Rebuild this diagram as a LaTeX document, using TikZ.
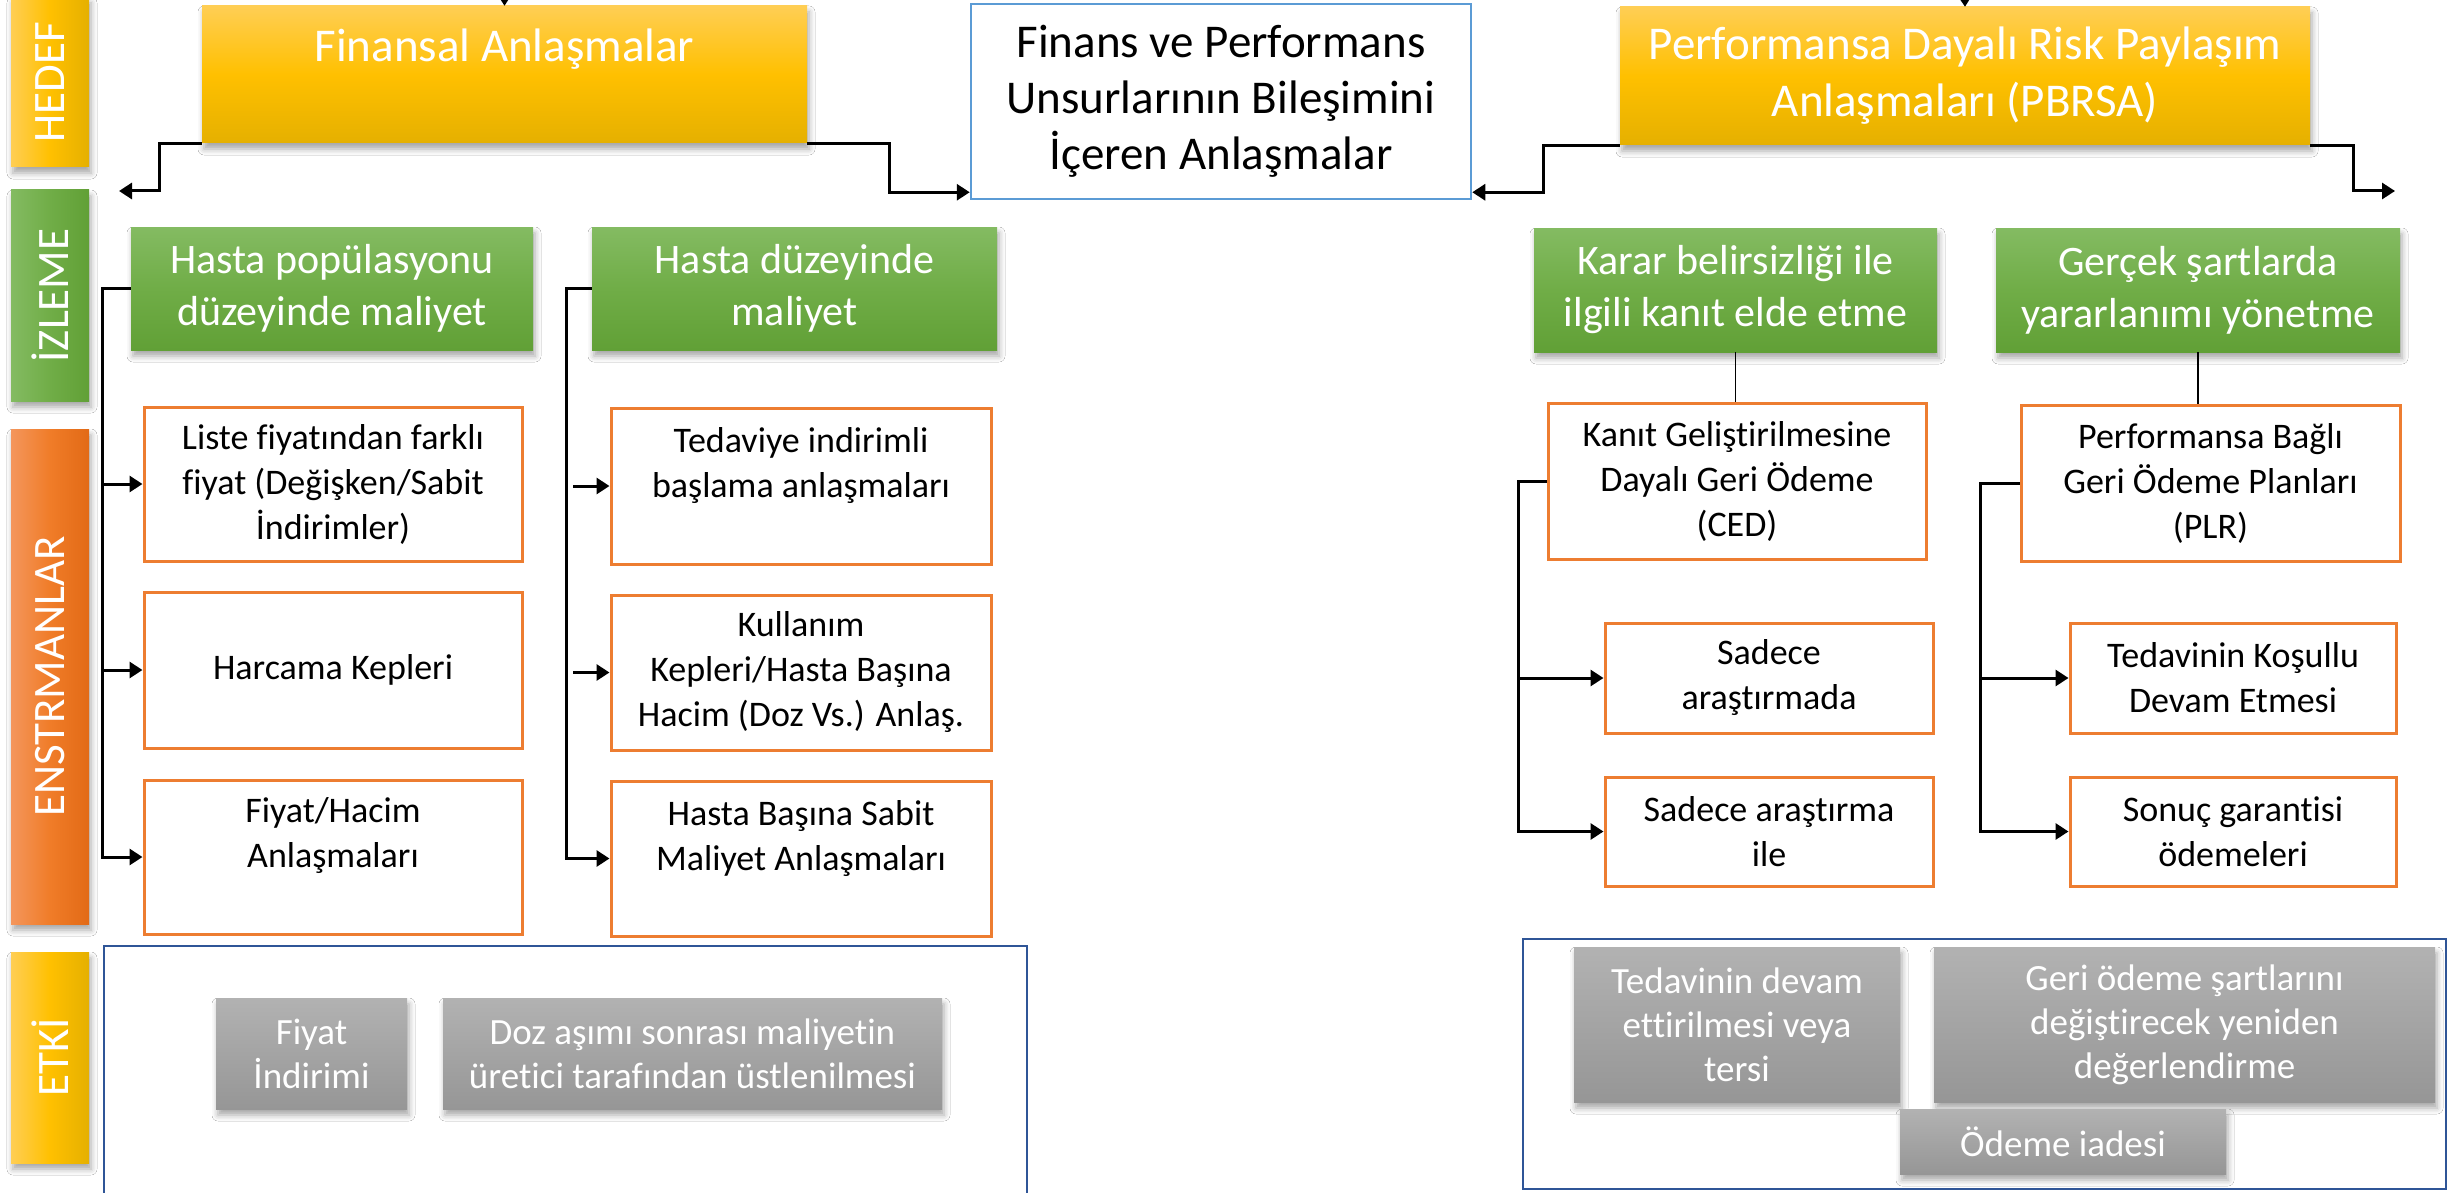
\documentclass[tikz,border=0pt]{standalone}
\usepackage{fontspec}
\setmainfont{Carlito}[Ligatures=NoCommon]
\usetikzlibrary{arrows.meta,shadows.blur}
\definecolor{yL}{RGB}{255,206,84}
\definecolor{yM}{RGB}{255,192,0}
\definecolor{yD}{RGB}{229,176,0}
\definecolor{gL}{RGB}{132,187,98}
\definecolor{gM}{RGB}{112,173,71}
\definecolor{gD}{RGB}{97,160,54}
\definecolor{oL}{RGB}{244,150,92}
\definecolor{oM}{RGB}{240,124,40}
\definecolor{oD}{RGB}{226,106,22}
\definecolor{orB}{RGB}{237,125,49}
\definecolor{grL}{RGB}{178,178,178}
\definecolor{grD}{RGB}{150,150,150}
\definecolor{cBlue}{RGB}{91,155,213}
\definecolor{dBlue}{RGB}{47,85,151}
\tikzset{
  shad/.style={blur shadow={shadow xshift=2pt,shadow yshift=-6pt,shadow blur radius=6pt,shadow opacity=35}},
  bar/.style={shad,inner sep=0pt,left color=#1L,right color=#1D,middle color=#1M},
  barlabel/.style={rotate=90,text=white,font=\fontsize{45pt}{50pt}\selectfont,inner sep=0pt},
  ybox/.style={shad,top color=yL,bottom color=yD,middle color=yM,text=white,align=center,inner sep=4pt,font=\fontsize{47pt}{57pt}\selectfont},
  ytext/.style={text=white,align=center,inner sep=0pt,font=\fontsize{47pt}{57pt}\selectfont},
  cbox/.style={draw=cBlue,line width=2.5pt,fill=white,text=black,align=center,inner sep=4pt,font=\fontsize{47pt}{56pt}\selectfont},
  gbox/.style={shad,top color=gL,bottom color=gD,middle color=gM,text=white,align=center,inner sep=4pt,font=\fontsize{42pt}{52pt}\selectfont},
  obox/.style={draw=orB,line width=3pt,fill=white,text=black,align=center,inner sep=4pt,font=\fontsize{36pt}{45pt}\selectfont},
  otext/.style={text=black,align=center,inner sep=0pt,font=\fontsize{36pt}{45pt}\selectfont},
  gybox/.style={shad,top color=grL,bottom color=grD,text=white,align=center,inner sep=4pt,font=\fontsize{37pt}{44pt}\selectfont},
  ebox/.style={draw=dBlue,line width=2.5pt,inner sep=0pt},
  conn/.style={draw=black,line width=3pt,-{Triangle[length=13pt,width=16pt]}},
  thinconn/.style={draw=black,line width=1.5pt}
}
\begin{document}
\begin{tikzpicture}[x=1pt,y=-1pt]
\useasboundingbox (0,0) rectangle (2448,1193);
\fill[white] (0,0) rectangle (2448,1193);

% side bars
\node[bar=y,minimum width=78pt,minimum height=170pt] (hedef) at (50,82) {};
\node[barlabel] (hedefT) at (hedef.center) {HEDEF};
\node[bar=g,minimum width=78pt,minimum height=211pt] (izleme) at (50,295.5) {};
\node[barlabel] (izlemeT) at (izleme.center) {İZLEME};
\node[bar=o,minimum width=78pt,minimum height=495pt] (enst) at (50,676.5) {};
\node[barlabel] (enstT) at (enst.center) {ENSTRMANLAR};
\node[bar=y,minimum width=78pt,minimum height=211pt] (etki) at (50,1057.5) {};
\node[barlabel] (etkiT) at (etki.center) {ETKİ};

% top row
\node[ybox,minimum width=605pt,minimum height=137pt] (fin) at (504.5,74.5) {};
\node[ytext] (finT) at (504.5,49) {Finansal Anlaşmalar};
\node[cbox,minimum width=500pt,minimum height=195pt] (cbox) at (1221,101.5) {Finans ve Performans\\Unsurlarının Bileşimini\\İçeren Anlaşmalar};
\node[ybox,minimum width=690pt,minimum height=138pt] (pbrsa) at (1965,76) {Performansa Dayalı Risk Paylaşım\\Anlaşmaları (PBRSA)};

\coordinate (finTop) at (504.5,-40);
\coordinate (pbTop) at (1964,-40);
\coordinate (lA) at (119,191);
\coordinate (rA) at (2395,191);
\draw[conn] (finTop) -- (fin.north);
\draw[conn] (pbTop) -- (pbrsa.north);
\draw[conn] (fin.south west) -- ++(-42,0) |- (lA);
\draw[conn] (fin.south east) -- ++(82,0) |- ([yshift=8pt]cbox.south west);
\draw[conn] (pbrsa.south west) -- ++(-76,0) |- ([yshift=8pt]cbox.south east);
\draw[conn] (pbrsa.south east) -- ++(43,0) |- (rA);

% green boxes
\node[gbox,minimum width=402pt,minimum height=123pt] (g1) at (332,288.5) {Hasta popülasyonu\\düzeyinde maliyet};
\node[gbox,minimum width=405pt,minimum height=123pt] (g2) at (794.5,288.5) {Hasta düzeyinde\\maliyet};
\node[gbox,minimum width=403pt,minimum height=124pt] (g3) at (1735.5,290) {Karar belirsizliği ile\\ilgili kanıt elde etme};
\node[gbox,minimum width=404pt,minimum height=124pt] (g4) at (2198,290) {Gerçek şartlarda\\yararlanımı yönetme};

% orange boxes left
\node[obox,minimum width=378pt,minimum height=154pt] (o11) at (333,484) {Liste fiyatından farklı\\fiyat (Değişken/Sabit\\İndirimler)};
\node[obox,minimum width=378pt,minimum height=156pt] (o12) at (333,670) {Harcama Kepleri};
\node[obox,minimum width=378pt,minimum height=154pt] (o13) at (333,857) {};
\node[otext] (o13T) at (333,836) {Fiyat/Hacim\\Anlaşmaları};
\node[obox,minimum width=380pt,minimum height=156pt] (o21) at (801,486) {};
\node[otext] (o21T) at (801,466) {Tedaviye indirimli\\başlama anlaşmaları};
\node[obox,minimum width=380pt,minimum height=155pt] (o22) at (801,672.5) {Kullanım\\Kepleri/Hasta Başına\\Hacim (Doz Vs.) Anlaş.};
\node[obox,minimum width=380pt,minimum height=155pt] (o23) at (801,858.5) {};
\node[otext] (o23T) at (801,839) {Hasta Başına Sabit\\Maliyet Anlaşmaları};

% orange boxes right
\node[obox,minimum width=378pt,minimum height=156pt] (ced) at (1737,481) {Kanıt Geliştirilmesine\\Dayalı Geri Ödeme\\(CED)};
\node[obox,minimum width=379pt,minimum height=156pt] (plr) at (2210.5,483) {Performansa Bağlı\\Geri Ödeme Planları\\(PLR)};
\node[obox,minimum width=328pt,minimum height=110pt] (sa1) at (1769,678) {Sadece\\araştırmada};
\node[obox,minimum width=328pt,minimum height=109pt] (sa2) at (1769,831.5) {Sadece araştırma\\ile};
\node[obox,minimum width=326pt,minimum height=110pt] (tk) at (2233,678) {Tedavinin Koşullu\\Devam Etmesi};
\node[obox,minimum width=326pt,minimum height=109pt] (sg) at (2233,831.5) {Sonuç garantisi\\ödemeleri};

% connectors
\coordinate (v1) at (102,0);
\coordinate (v2) at (566,0);
\coordinate (v2b) at (573,0);
\coordinate (v3) at (1518,0);
\coordinate (v4) at (1980,0);
\draw[conn] (g1.west) -- (v1 |- g1.west) |- (o13.west);
\draw[conn] (v1 |- o11.west) -- (o11.west);
\draw[conn] (v1 |- o12.west) -- (o12.west);
\draw[conn] (g2.west) -- (v2 |- g2.west) |- (o23.west);
\draw[conn] (v2b |- o21.west) -- (o21.west);
\draw[conn] (v2b |- o22.west) -- (o22.west);
\draw[conn] (ced.west) -- (v3 |- ced.west) |- (sa2.west);
\draw[conn] (v3 |- sa1.west) -- (sa1.west);
\draw[conn] (plr.west) -- (v4 |- plr.west) |- (sg.west);
\draw[conn] (v4 |- tk.west) -- (tk.west);
\draw[thinconn] (g3.south) -- (g3.south |- ced.north);
\draw[thinconn] (g4.south) -- (g4.south |- plr.north);

% impact frames
\node[ebox,minimum width=923pt,minimum height=262pt] (ebl) at (565.5,1077) {};
\node[ebox,minimum width=923pt,minimum height=250pt] (ebr) at (1984.5,1064) {};

% gray boxes
\node[gybox,minimum width=191pt,minimum height=111pt] (gr1) at (311.5,1053.5) {Fiyat\\İndirimi};
\node[gybox,minimum width=499pt,minimum height=111pt] (gr2) at (692.5,1053.5) {Doz aşımı sonrası maliyetin\\üretici tarafından üstlenilmesi};
\node[gybox,minimum width=326pt,minimum height=155pt] (gr3) at (1737,1024.5) {Tedavinin devam\\ettirilmesi veya\\tersi};
\node[gybox,minimum width=501pt,minimum height=155pt] (gr4) at (2184.5,1024.5) {Geri ödeme şartlarını\\değiştirecek yeniden\\değerlendirme};
\node[gybox,minimum width=326pt,minimum height=65pt] (gr5) at (2063,1141.5) {Ödeme iadesi};
\end{tikzpicture}
\end{document}
